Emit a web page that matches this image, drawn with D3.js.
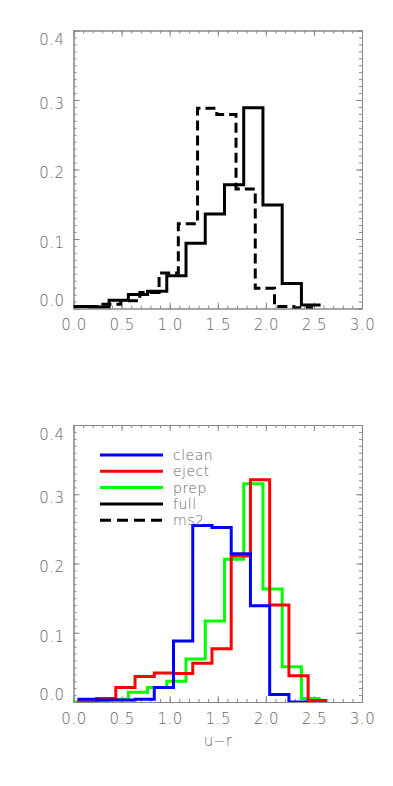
<!DOCTYPE html>
<html>
<head>
<meta charset="utf-8">
<script src="https://cdn.jsdelivr.net/npm/d3@7"></script>
<style>
body{margin:0;background:#fff}
svg text{font-family:"DejaVu Sans",sans-serif;font-weight:200;fill:#666}
</style>
</head>
<body>
<div id="chart"></div>
<script>
// histogramas (bordes de bin y alturas)
var fullEdges=[0.0,0.17,0.37,0.57,0.77,0.97,1.17,1.37,1.57,1.77,1.97,2.17,2.37,2.57]
var fullVals=[0.003,0.002,0.012,0.020,0.025,0.047,0.094,0.136,0.178,0.289,0.149,0.036,0.005]

var ms2Edges=[0.0,0.09,0.29,0.49,0.69,0.89,1.09,1.29,1.49,1.69,1.89,2.09,2.29,2.49]
var ms2Vals=[0.003,0.003,0.006,0.011,0.023,0.051,0.122,0.288,0.279,0.172,0.029,0.003,0.001]

var cleanEdges=[0.04,0.24,0.44,0.64,0.84,1.04,1.24,1.44,1.64,1.84,2.04,2.24,2.44]
var cleanVals=[0.004,0.003,0.003,0.004,0.021,0.088,0.255,0.252,0.214,0.139,0.011,0.0]

var ejectEdges=[0.04,0.24,0.44,0.64,0.84,1.04,1.24,1.44,1.64,1.84,2.04,2.24,2.44,2.64]
var ejectVals=[0.0,0.005,0.021,0.037,0.042,0.041,0.056,0.077,0.211,0.321,0.140,0.038,0.002]

var prepEdges=[0.0,0.17,0.37,0.57,0.77,0.97,1.17,1.37,1.57,1.77,1.97,2.17,2.37,2.57]
var prepVals=[0.0,0.0,0.004,0.014,0.021,0.030,0.062,0.117,0.206,0.315,0.163,0.051,0.005]

var xTicks=[0.0,0.5,1.0,1.5,2.0,2.5,3.0]
var yTicks=[0.0,0.1,0.2,0.3,0.4]
var legendNames=["clean","eject","prep","full","ms2"]
var legendColors=["#0000ff","#ff0000","#00ff00","#000","#000"]

var W=393,H=786
var svg=d3.select("#chart").append("svg").attr("width",W).attr("height",H)

var fmt=d3.format(".1f")
var left=73.5,right=362

function panel(top,bottom,series,xlabel,id){
	var x=d3.scaleLinear().domain([0,3]).range([left,right])
	var y=d3.scaleLinear().domain([0,0.4]).range([bottom,top])
	var g=svg.append("g")
	g.append("clipPath").attr("id",id).append("rect")
		.attr("x",left).attr("y",top).attr("width",right-left).attr("height",bottom-top)

	var minX=d3.range(0,30.5,1).map(d=>d/10)
	var minY=d3.range(0,40.5,1).map(d=>d/100)

	function ax(gen,tr,vals,size,labels){
		var a=g.append("g").attr("transform",tr)
			.call(gen.tickValues(vals).tickSizeInner(-size).tickSizeOuter(0)
				.tickFormat(labels?fmt:""))
		a.selectAll("line").attr("stroke","#888").attr("stroke-width",1)
		a.select(".domain").attr("stroke","#888").attr("stroke-width",1)
		a.selectAll("text").style("font-size","15px").style("letter-spacing","0.5px").attr("fill","#666")
		return a
	}
	// ticks menores
	ax(d3.axisBottom(x),"translate(0,"+bottom+")",minX,3,false)
	ax(d3.axisTop(x),"translate(0,"+top+")",minX,3,false)
	ax(d3.axisLeft(y),"translate("+left+",0)",minY,3,false)
	ax(d3.axisRight(y),"translate("+right+",0)",minY,3,false)
	// ticks mayores
	var bx=ax(d3.axisBottom(x).tickPadding(11),"translate(0,"+bottom+")",xTicks,6,true)
	ax(d3.axisTop(x),"translate(0,"+top+")",xTicks,6,false)
	var ly=ax(d3.axisLeft(y).tickPadding(9),"translate("+left+",0)",yTicks,6,true)
	ax(d3.axisRight(y),"translate("+right+",0)",yTicks,6,false)
	ly.selectAll("text").attr("dy",d=>d==0.4?"0.95em":(d==0?"-0.2em":"0.55em"))

	var line=d3.line().x(d=>x(d[0])).y(d=>y(d[1])).curve(d3.curveStepAfter)
	series.forEach(function(s){
		var pts=s.vals.map((v,i)=>[s.edges[i],v])
		pts.push([s.edges[s.edges.length-1],s.vals[s.vals.length-1]])
		g.append("path").attr("d",line(pts))
			.attr("fill","none").attr("stroke",s.color).attr("stroke-width",3)
			.attr("stroke-dasharray",s.dash||null)
			.attr("clip-path","url(#"+id+")")
	})
	if(xlabel){
		g.append("text").attr("x",(left+right)/2).attr("y",bottom+44)
			.attr("text-anchor","middle").style("font-size","15px").text(xlabel)
	}
	return {x:x,y:y,g:g}
}

panel(30.5,308.5,[
	{edges:ms2Edges,vals:ms2Vals,color:"#000",dash:"10,5"},
	{edges:fullEdges,vals:fullVals,color:"#000"}
],null,"c1")

var p2=panel(425,702,[
	{edges:prepEdges,vals:prepVals,color:"#00ff00"},
	{edges:ejectEdges,vals:ejectVals,color:"#ff0000"},
	{edges:cleanEdges,vals:cleanVals,color:"#0000ff"}
],"u\u2212r","c2")

// leyenda
var leg=svg.append("g")
legendNames.forEach(function(n,i){
	var yy=455+i*16.3
	leg.append("line").attr("x1",100).attr("x2",163).attr("y1",yy).attr("y2",yy)
		.attr("stroke",legendColors[i]).attr("stroke-width",3)
		.attr("stroke-dasharray",n=="ms2"?"11,6":null)
	leg.append("text").attr("x",173).attr("y",yy).attr("dy","0.35em")
		.style("font-size","14px").style("letter-spacing","0.5px").text(n)
})
</script>
</body>
</html>
